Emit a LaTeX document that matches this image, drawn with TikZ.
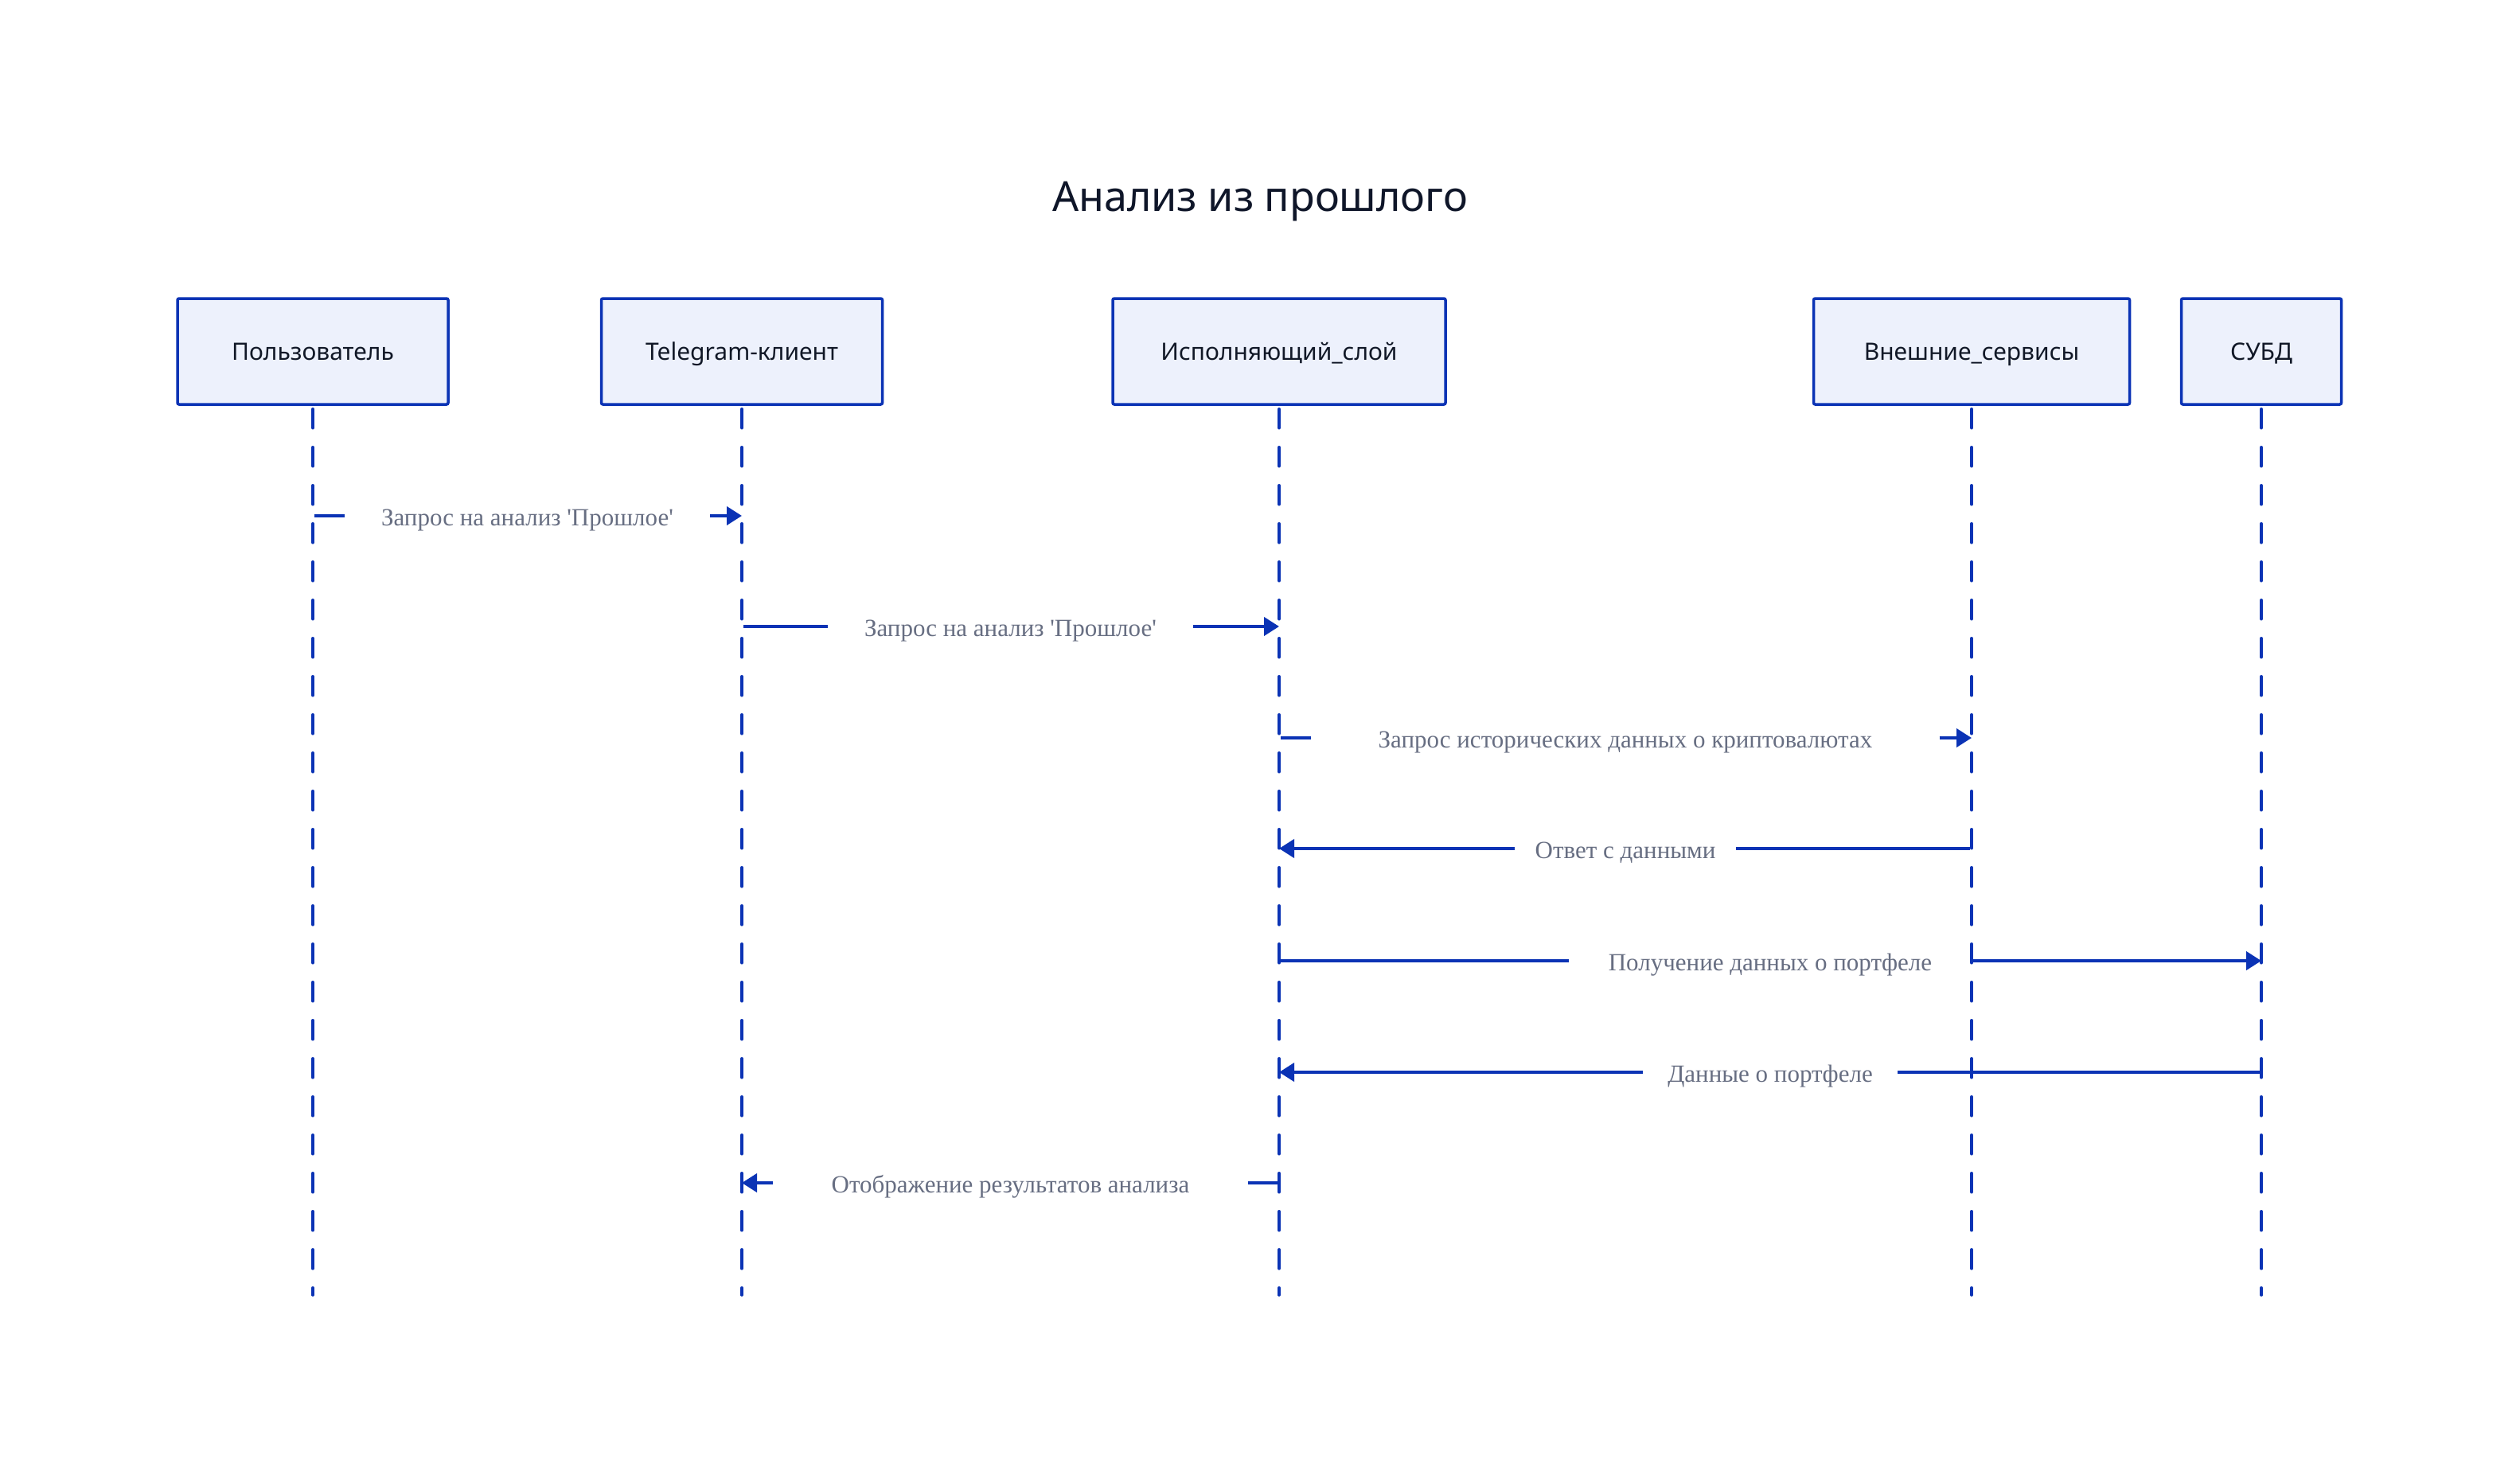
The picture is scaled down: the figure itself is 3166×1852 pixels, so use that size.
\documentclass[tikz,border=0pt]{standalone}
\usepackage{fontspec}
\setmainfont{Liberation Serif}
\newfontfamily\lblfont{Liberation Serif}
\newfontfamily\boxfont{Noto Sans}
\usetikzlibrary{arrows.meta}
\definecolor{lineblue}{HTML}{0B33B5}
\definecolor{boxfill}{HTML}{EDF1FC}
\definecolor{labelgray}{HTML}{676E82}
\definecolor{titlecol}{HTML}{0F1629}
\definecolor{boxtext}{HTML}{111827}
\tikzset{
  actor/.style={draw=lineblue, fill=boxfill, line width=3.5pt, rounded corners=2pt,
    minimum height=133pt, inner sep=0pt, text height=22pt, text depth=0pt,
    font=\boxfont\fontsize{30}{36}\selectfont, text=boxtext},
  lifeline/.style={draw=lineblue, line width=3.5pt, line cap=round,
    dash pattern=on 24pt off 24pt, shorten <=4pt},
  msglabel/.style={inner sep=0pt, text height=24pt, text depth=0pt,
    font=\lblfont\fontsize{31}{37}\selectfont, text=labelgray},
  msgline/.style={draw=lineblue, line width=4pt},
  msgarrow/.style={msgline, -{Triangle[length=19pt,width=23pt]}},
}
\begin{document}
\begin{tikzpicture}[x=1pt, y=-1pt]
\useasboundingbox[fill=white] (0,0) rectangle (3166,1852);

\node[anchor=base, font=\boxfont\fontsize{52}{60}\selectfont, text=titlecol] (title) at (1583,265) {Анализ из прошлого};

\node[actor, minimum width=340pt] (u) at (393,441.5) {Пользователь};
\node[actor, minimum width=353pt] (t) at (932,441.5) {Telegram-клиент};
\node[actor, minimum width=418pt] (e) at (1607,441.5) {Исполняющий\_слой};
\node[actor, minimum width=397pt] (s) at (2477,441.5) {Внешние\_сервисы};
\node[actor, minimum width=201pt] (d) at (2841,441.5) {СУБД};

\foreach \n in {u,t,e,s,d}{
  \coordinate (\n end) at (\n |- 0,1627);
  \draw[lifeline] (\n.south) -- (\n end);
}

% message 1
\coordinate (m1a) at (u |- 0,648);
\coordinate (m1b) at (t |- 0,648);
\node[msglabel, minimum width=458pt] (l1) at (662.5,648) {Запрос на анализ 'Прошлое'};
\draw[msgline] ([xshift=2pt]m1a) -- (l1.west);
\draw[msgarrow] (l1.east) -- (m1b);

% message 2
\coordinate (m2a) at (t |- 0,787);
\coordinate (m2b) at (e |- 0,787);
\node[msglabel, minimum width=458pt] (l2) at (1269.5,787) {Запрос на анализ 'Прошлое'};
\draw[msgline] ([xshift=2pt]m2a) -- (l2.west);
\draw[msgarrow] (l2.east) -- (m2b);

% message 3
\coordinate (m3a) at (e |- 0,927);
\coordinate (m3b) at (s |- 0,927);
\node[msglabel, minimum width=789pt] (l3) at (2042,927) {Запрос исторических данных о криптовалютах};
\draw[msgline] ([xshift=2pt]m3a) -- (l3.west);
\draw[msgarrow] (l3.east) -- (m3b);

% message 4
\coordinate (m4a) at (s |- 0,1066);
\coordinate (m4b) at (e |- 0,1066);
\node[msglabel, minimum width=277pt] (l4) at (2042,1066) {Ответ с данными};
\draw[msgline] ([xshift=-2pt]m4a) -- (l4.east);
\draw[msgarrow] (l4.west) -- (m4b);

% message 5
\coordinate (m5a) at (e |- 0,1207);
\coordinate (m5b) at (d |- 0,1207);
\node[msglabel, minimum width=505pt] (l5) at (2224,1207) {Получение данных о портфеле};
\draw[msgline] ([xshift=2pt]m5a) -- (l5.west);
\draw[msgarrow] (l5.east) -- (m5b);

% message 6
\coordinate (m6a) at (d |- 0,1347);
\coordinate (m6b) at (e |- 0,1347);
\node[msglabel, minimum width=319pt] (l6) at (2224,1347) {Данные о портфеле};
\draw[msgline] ([xshift=-2pt]m6a) -- (l6.east);
\draw[msgarrow] (l6.west) -- (m6b);

% message 7
\coordinate (m7a) at (e |- 0,1486);
\coordinate (m7b) at (t |- 0,1486);
\node[msglabel, minimum width=596pt] (l7) at (1269.5,1486) {Отображение результатов анализа};
\draw[msgline] ([xshift=-2pt]m7a) -- (l7.east);
\draw[msgarrow] (l7.west) -- (m7b);
\end{tikzpicture}
\end{document}
